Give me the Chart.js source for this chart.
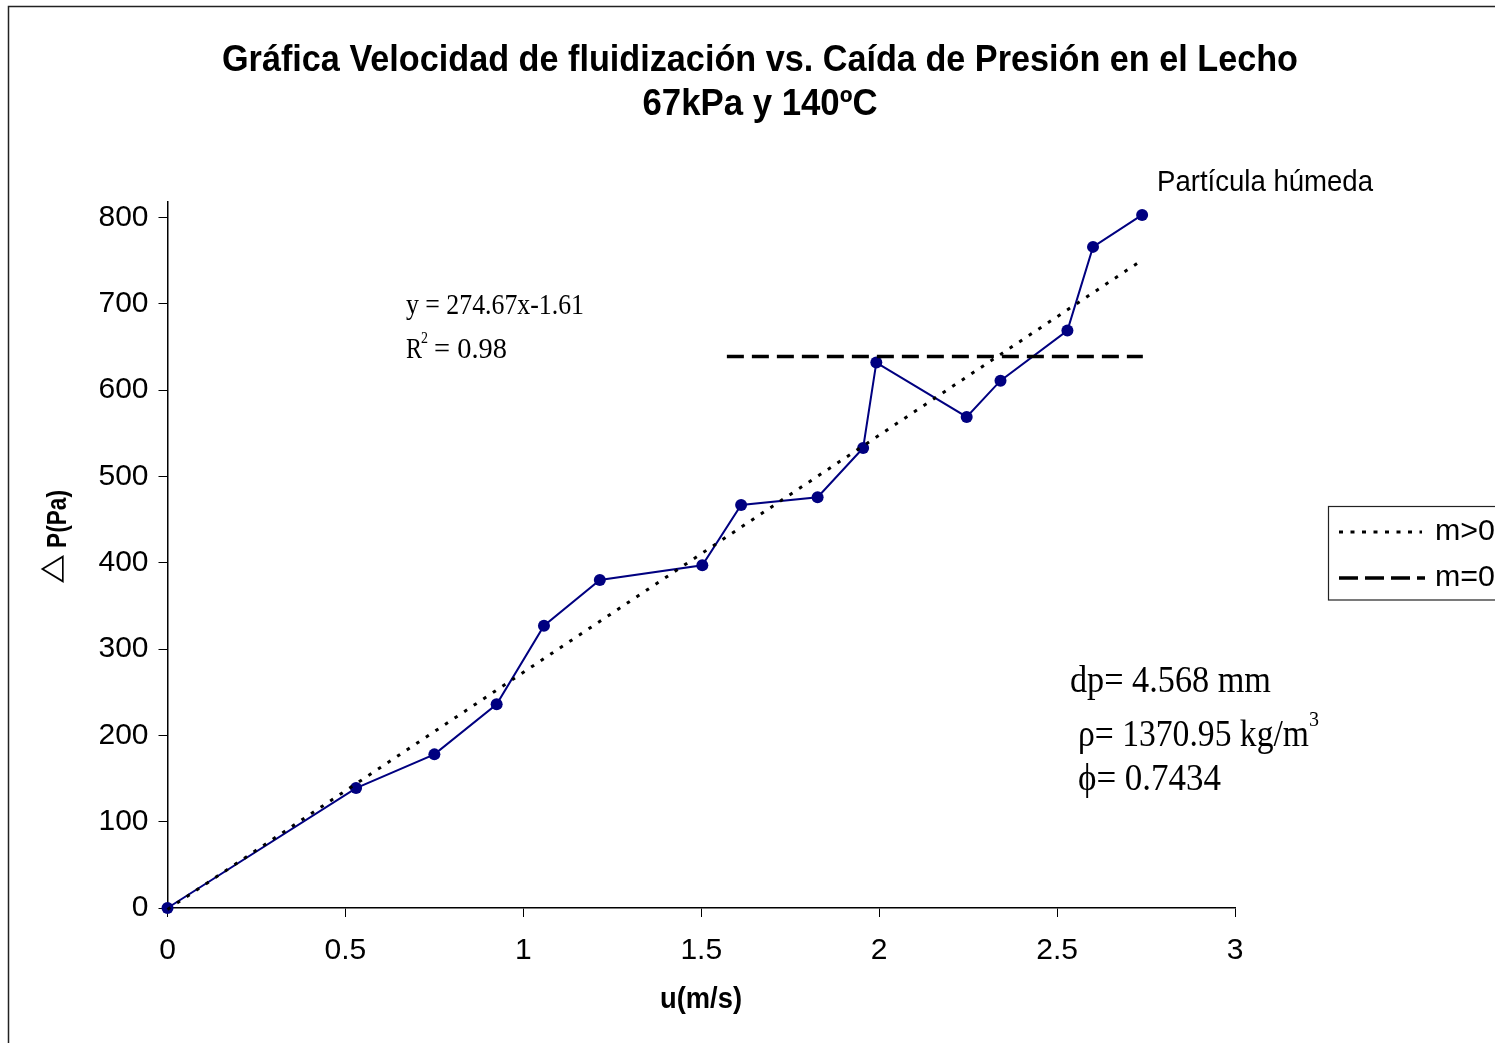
<!DOCTYPE html>
<html>
<head>
<meta charset="utf-8">
<script src="https://cdn.jsdelivr.net/npm/chart.js@4.4.1/dist/chart.umd.min.js"></script>
<style>
  html, body { margin: 0; padding: 0; background: #fff; }
  canvas { display: block; }
</style>
</head>
<body>
<canvas id="c" width="1495" height="1043"></canvas>
<script>
// ---- data ----
const uVals  = [0, 0.53, 0.75, 0.925, 1.058, 1.215, 1.503, 1.612, 1.827, 1.955, 1.992, 2.246, 2.341, 2.529, 2.601, 2.739];
const dpVals = [0, 139, 178, 236, 327, 380, 397, 467, 476, 533, 632, 569, 611, 669, 766, 803];
const trendU  = [0, 2.741];
const trendDP = [-1.61, 751.3];
const flatU   = [1.572, 2.741];
const flatDP  = [639, 639];
const xTicks = [0, 0.5, 1, 1.5, 2, 2.5, 3];
const yTicks = [0, 100, 200, 300, 400, 500, 600, 700, 800];
const titleLines = ['Gráfica Velocidad de fluidización vs. Caída de Presión en el Lecho', '67kPa y 140ºC'];
const seriesLabel = 'Partícula húmeda';
const xTitle = 'u(m/s)';
const yTitle = ['△', 'P(Pa)'];
const legendLabels = ['m>0', 'm=0'];
const eqText = ['y = 274.67x-1.61', 'R', '2', ' = 0.98'];
const propText = ['dp= 4.568 mm', 'ρ= 1370.95 kg/m', '3', 'ϕ= 0.7434'];

const SANS = '"Liberation Sans", Arial, sans-serif';
const SERIF = '"Liberation Serif", "Times New Roman", serif';

function fitText(ctx, text, x, y, font, width, align) {
  ctx.save();
  ctx.font = font;
  ctx.fillStyle = '#000';
  ctx.textBaseline = 'middle';
  ctx.textAlign = 'left';
  const w = ctx.measureText(text).width;
  const s = width ? width / w : 1;
  const ww = width || w;
  const x0 = align === 'center' ? x - ww / 2 : (align === 'right' ? x - ww : x);
  ctx.translate(x0, y);
  ctx.scale(s, 1);
  ctx.fillText(text, 0, 0);
  ctx.restore();
}

const decor = {
  id: 'decor',
  beforeDraw(chart) {
    const ctx = chart.ctx;
    ctx.save();
    ctx.fillStyle = '#fff';
    ctx.fillRect(0, 0, chart.width, chart.height);
    ctx.strokeStyle = '#222';
    ctx.lineWidth = 1.5;
    ctx.beginPath();
    ctx.moveTo(8.5, 1043);
    ctx.lineTo(8.5, 6.5);
    ctx.lineTo(1495, 6.5);
    ctx.stroke();
    ctx.restore();
  },
  afterDraw(chart) {
    const ctx = chart.ctx;
    // title
    fitText(ctx, titleLines[0], 760, 61, 'bold 36px ' + SANS, 1076, 'center');
    fitText(ctx, titleLines[1], 760, 105, 'bold 36px ' + SANS, 235, 'center');
    // series label
    fitText(ctx, seriesLabel, 1157, 183, '29px ' + SANS, 216, 'left');
    // axis titles
    fitText(ctx, xTitle, 701, 1000, 'bold 29px ' + SANS, 82, 'center');
    ctx.save();
    ctx.translate(55, 536);
    ctx.rotate(-Math.PI / 2);
    fitText(ctx, yTitle[0], -47, -3, '30px "DejaVu Sans", sans-serif', 28, 'left');
    fitText(ctx, yTitle[1], -12, 3, 'bold 28px ' + SANS, 58, 'left');
    ctx.restore();
    // equation
    fitText(ctx, eqText[0], 406, 306, '30px ' + SERIF, 178, 'left');
    fitText(ctx, eqText[1], 406, 350, '30px ' + SERIF, 16, 'left');
    fitText(ctx, eqText[2], 421, 339, '17px ' + SERIF, 7, 'left');
    fitText(ctx, eqText[3], 427, 350, '30px ' + SERIF, 80, 'left');
    // properties
    fitText(ctx, propText[0], 1070, 682, '37px ' + SERIF, 201, 'left');
    fitText(ctx, propText[1], 1078, 736, '37px ' + SERIF, 231, 'left');
    fitText(ctx, propText[2], 1309, 720, '22px ' + SERIF, 10, 'left');
    fitText(ctx, propText[3], 1078, 780, '37px ' + SERIF, 143, 'left');
    // legend box
    ctx.save();
    ctx.strokeStyle = '#222';
    ctx.lineWidth = 1.2;
    ctx.strokeRect(1328.5, 506.5, 200, 93.5);
    ctx.strokeStyle = '#000';
    ctx.lineWidth = 3;
    ctx.setLineDash([4, 7.5]);
    ctx.beginPath(); ctx.moveTo(1339, 532); ctx.lineTo(1422, 532); ctx.stroke();
    ctx.setLineDash([19, 7]);
    ctx.lineWidth = 3.5;
    ctx.beginPath(); ctx.moveTo(1339, 578); ctx.lineTo(1425, 578); ctx.stroke();
    ctx.restore();
    fitText(ctx, legendLabels[0], 1435, 532, '30px ' + SANS, 60, 'left');
    fitText(ctx, legendLabels[1], 1435, 578, '30px ' + SANS, 60, 'left');
  }
};

const mainPts = uVals.map((u, i) => ({ x: u, y: dpVals[i] }));
const trendPts = trendU.map((u, i) => ({ x: u, y: trendDP[i] }));
const flatPts = flatU.map((u, i) => ({ x: u, y: flatDP[i] }));

new Chart(document.getElementById('c'), {
  type: 'scatter',
  data: {
    datasets: [
      {
        label: 'm>0', data: trendPts, showLine: true, borderColor: '#000', borderWidth: 3,
        borderDash: [3.5, 8], pointRadius: 0, clip: false
      },
      {
        label: 'm=0', data: flatPts, showLine: true, borderColor: '#000', borderWidth: 3.5,
        borderDash: [17, 8], pointRadius: 0, clip: false
      },
      {
        label: seriesLabel, data: mainPts, showLine: true, borderColor: '#000080', borderWidth: 2,
        pointRadius: 6, pointBackgroundColor: '#000080', pointBorderColor: '#000080',
        pointBorderWidth: 0, clip: false
      }
    ]
  },
  options: {
    responsive: false,
    animation: false,
    devicePixelRatio: 1,
    layout: { padding: { top: 202, right: 260, left: 0, bottom: 0 } },
    plugins: { legend: { display: false }, tooltip: { enabled: false }, title: { display: false } },
    scales: {
      x: {
        type: 'linear', min: 0, max: 3,
        afterBuildTicks: (axis) => { axis.ticks = xTicks.map(v => ({ value: v })); },
        afterFit: (s) => { s.height = 135; },
        grid: { drawOnChartArea: false, drawTicks: true, tickLength: 9, color: '#000', lineWidth: 1 },
        border: { color: '#000', width: 1.5 },
        ticks: { color: '#000', font: { family: SANS, size: 30 }, padding: 16, maxRotation: 0,
          callback: (v) => String(v) }
      },
      y: {
        type: 'linear', min: 0, max: 818,
        afterBuildTicks: (axis) => { axis.ticks = yTicks.map(v => ({ value: v })); },
        afterFit: (s) => { s.width = 167.5; },
        grid: { drawOnChartArea: false, drawTicks: true, tickLength: 9, color: '#000', lineWidth: 1 },
        border: { color: '#000', width: 1.5 },
        ticks: { color: '#000', font: { family: SANS, size: 30 }, padding: 10,
          callback: (v) => String(v) }
      }
    }
  },
  plugins: [decor]
});
</script>
</body>
</html>
